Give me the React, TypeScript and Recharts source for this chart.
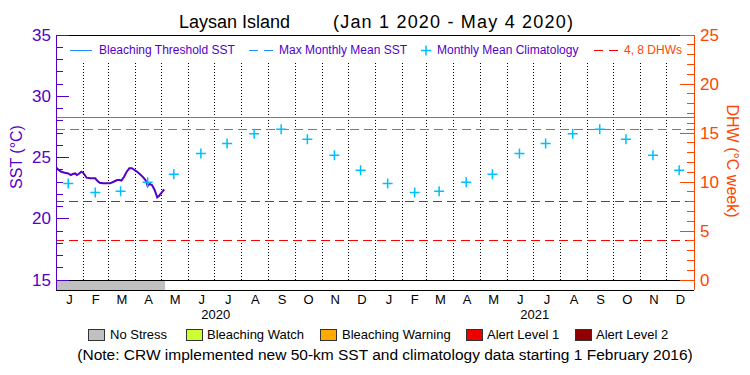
import React from 'react';
import { ComposedChart, Line, Scatter, XAxis, YAxis, ReferenceLine, ReferenceArea } from 'recharts';

// calendar for the two plotted years (2020 is a leap year)
const monthLengths = [31, 29, 31, 30, 31, 30, 31, 31, 30, 31, 30, 31, 31, 28, 31, 30, 31, 30, 31, 31, 30, 31, 30, 31];
const monthLetters = ['J', 'F', 'M', 'A', 'M', 'J', 'J', 'A', 'S', 'O', 'N', 'D'];
const yearLabels = ['2020', '2021'];
const yearMid = [183, 548.5];

// daily SST, day index from Jan 1 2020
const sstDays = [0, 3, 6, 10, 14, 17, 19, 22, 24, 26, 29, 31, 33, 35, 39, 45, 47, 50, 54, 62, 66, 70, 73, 75, 78, 81, 84, 87, 90, 93, 96, 100, 103, 105, 107, 110, 113, 116, 118, 121, 124];
const sstValues = [24.2, 23.98, 23.84, 23.76, 23.7, 23.57, 23.65, 23.7, 23.57, 23.65, 23.84, 23.76, 23.57, 23.35, 23.3, 23.3, 23.11, 22.94, 22.89, 22.89, 23.02, 23.16, 23.16, 23.11, 23.43, 23.84, 24.12, 24.12, 23.98, 23.84, 23.65, 23.38, 23.11, 22.67, 22.84, 22.76, 22.35, 21.75, 21.86, 22.13, 22.4];

// monthly mean climatology, Jan 2020 .. Dec 2021
const climatology = [
  22.87, 22.15, 22.24, 22.98, 23.64, 25.33, 26.15, 26.94, 27.3, 26.48, 25.18, 23.95,
  22.87, 22.15, 22.24, 22.98, 23.64, 25.33, 26.15, 26.94, 27.3, 26.48, 25.18, 23.95,
];

const mmm = 27.3;
const bleachingThreshold = 28.3;
const dhwLevels = [4, 8];
const stressPeriods = [{ start: 0, end: 125, color: '#C0C0C0' }];

const leftTicks = [15, 16, 17, 18, 19, 20, 21, 22, 23, 24, 25, 26, 27, 28, 29, 30, 31, 32, 33, 34, 35];
const rightTicks = [0, 1, 2, 3, 4, 5, 6, 7, 8, 9, 10, 11, 12, 13, 14, 15, 16, 17, 18, 19, 20, 21, 22, 23, 24, 25];

const stressLegend = [
  { label: 'No Stress', color: '#C0C0C0', box: 88, text: 110 },
  { label: 'Bleaching Watch', color: '#CCFF33', box: 186, text: 207 },
  { label: 'Bleaching Warning', color: '#FFAA00', box: 320, text: 342 },
  { label: 'Alert Level 1', color: '#EE0000', box: 466, text: 487 },
  { label: 'Alert Level 2', color: '#900000', box: 575, text: 596 },
];

const PURPLE = '#5500C8';
const ORANGE = '#FF4500';
const BLUE = '#1E90FF';
const CYAN = '#00BFFF';
const RED = '#FF0000';
const FONT = '"Liberation Sans", Arial, sans-serif';

const monthStarts: number[] = [];
monthLengths.reduce((acc, len) => {
  monthStarts.push(acc);
  return acc + len;
}, 0);
const monthCenters = monthStarts.map((s, i) => s + monthLengths[i] / 2);
const totalDays = monthStarts[23] + monthLengths[23];

const sstData = sstDays.map((d, i) => ({ day: d, sst: sstValues[i] }));
const climData = monthStarts.map((s, i) => ({ day: s + 14, clim: climatology[i] }));

const LeftTick = (props: any) => {
  const { x, y, payload } = props;
  const major = payload.value % 5 === 0;
  return (
    <g>
      <line x1={x} x2={x + (major ? 13 : 7)} y1={y} y2={y} stroke={PURPLE} shapeRendering="crispEdges" />
      {major && (
        <text x={x - 5} y={y} textAnchor="end" dominantBaseline="central" fill={PURPLE} fontSize={17} fontFamily={FONT}>
          {payload.value}
        </text>
      )}
    </g>
  );
};

const RightTick = (props: any) => {
  const { x, y, payload } = props;
  const major = payload.value % 5 === 0;
  return (
    <g>
      <line x1={x} x2={x - (major ? 14 : 7)} y1={y} y2={y} stroke={ORANGE} shapeRendering="crispEdges" />
      {major && (
        <text x={x + 6} y={y} textAnchor="start" dominantBaseline="central" fill={ORANGE} fontSize={17} fontFamily={FONT}>
          {payload.value}
        </text>
      )}
    </g>
  );
};

const Cross = (props: any) => {
  const { cx, cy } = props;
  return <path d={`M${cx - 5},${cy}H${cx + 5}M${cx},${cy - 5}V${cy + 5}`} stroke={CYAN} strokeWidth={1.5} fill="none" />;
};

const abs = (left: number, top: number, extra: React.CSSProperties = {}): React.CSSProperties => ({
  position: 'absolute',
  left,
  top,
  whiteSpace: 'pre',
  ...extra,
});

export default function App() {
  return (
    <div style={{ position: 'absolute', left: 0, top: 0, width: 750, height: 375, background: '#fff', fontFamily: FONT }}>
      <ComposedChart width={750} height={375} margin={{ top: 35, right: 16, bottom: 47, left: 16 }}>
        <XAxis
          xAxisId={0}
          type="number"
          dataKey="day"
          domain={[0, totalDays]}
          ticks={monthCenters}
          interval={0}
          tickFormatter={(v: number, i: number) => monthLetters[i % 12]}
          tickLine={false}
          tickSize={0}
          tickMargin={5}
          axisLine={{ stroke: '#000', shapeRendering: 'crispEdges' }}
          tick={{ fill: '#000', fontSize: 13, fontFamily: FONT }}
          height={18}
          allowDataOverflow
        />
        <XAxis
          xAxisId="year"
          type="number"
          dataKey="day"
          domain={[0, totalDays]}
          ticks={yearMid}
          interval={0}
          tickFormatter={(v: number, i: number) => yearLabels[i]}
          tickLine={false}
          tickSize={0}
          tickMargin={2}
          axisLine={false}
          tick={{ fill: '#000', fontSize: 13, fontFamily: FONT }}
          height={20}
          allowDataOverflow
        />
        <YAxis
          yAxisId="left"
          type="number"
          domain={[15 - 10 / 12.25, 35]}
          ticks={leftTicks}
          interval={0}
          width={40}
          tickSize={0}
          tickMargin={0}
          tickLine={false}
          axisLine={{ stroke: PURPLE, shapeRendering: 'crispEdges' }}
          tick={LeftTick}
          allowDataOverflow
        />
        <YAxis
          yAxisId="right"
          orientation="right"
          type="number"
          domain={[-10 / 9.8, 25]}
          ticks={rightTicks}
          interval={0}
          width={40}
          tickSize={0}
          tickMargin={0}
          tickLine={false}
          axisLine={{ stroke: ORANGE, shapeRendering: 'crispEdges' }}
          tick={RightTick}
          allowDataOverflow
        />

        {stressPeriods.map((p) => (
          <ReferenceArea
            key={p.start}
            yAxisId="left"
            x1={p.start}
            x2={p.end}
            y1={15 - 10 / 12.25}
            y2={15}
            fill={p.color}
            fillOpacity={1}
            stroke="none"
          />
        ))}

        {monthStarts.slice(1).map((d) => (
          <ReferenceLine
            key={d}
            yAxisId="left"
            segment={[{ x: d, y: 15 }, { x: d, y: 32.7 }]}
            stroke="#000"
            strokeWidth={d === 366 ? 1.6 : 1}
            strokeDasharray="1 2"
            shapeRendering="crispEdges"
          />
        ))}

        <ReferenceLine yAxisId="left" y={35} stroke="#000" shapeRendering="crispEdges" />
        <ReferenceLine yAxisId="left" y={15} stroke="#000" shapeRendering="crispEdges" />
        <ReferenceLine yAxisId="left" y={bleachingThreshold} stroke={BLUE} shapeRendering="crispEdges" />
        <ReferenceLine yAxisId="left" y={mmm} stroke={BLUE} strokeDasharray="9 5" shapeRendering="crispEdges" />
        {dhwLevels.map((v) => (
          <ReferenceLine key={v} yAxisId="right" y={v} stroke={RED} strokeDasharray="9 5" shapeRendering="crispEdges" />
        ))}

        <Scatter data={climData} yAxisId="left" dataKey="clim" shape={Cross} isAnimationActive={false} />
        <Line
          data={sstData}
          yAxisId="left"
          dataKey="sst"
          type="linear"
          stroke={PURPLE}
          strokeWidth={2}
          dot={false}
          isAnimationActive={false}
        />
      </ComposedChart>

      {/* title */}
      <div style={abs(179, 12, { fontSize: 18, lineHeight: '20px', color: '#000' })}>Laysan Island</div>
      <div style={abs(333, 12, { fontSize: 18, lineHeight: '20px', color: '#000', letterSpacing: 1.2 })}>(Jan 1 2020 - May 4 2020)</div>

      {/* top legend */}
      <svg style={abs(0, 0)} width={750} height={70} pointerEvents="none">
        <line x1={70} x2={92} y1={50.5} y2={50.5} stroke={BLUE} />
        <line x1={249} x2={273} y1={50.5} y2={50.5} stroke={BLUE} strokeDasharray="9 6" />
        <path d="M421,50.5H431M426,45.5V55.5" stroke={CYAN} strokeWidth={1.5} />
        <line x1={594} x2={618} y1={50.5} y2={50.5} stroke={RED} strokeDasharray="9 6" />
      </svg>
      <div style={abs(99, 43, { fontSize: 12, lineHeight: '14px', color: PURPLE })}>Bleaching Threshold SST</div>
      <div style={abs(279, 43, { fontSize: 12, lineHeight: '14px', color: PURPLE })}>Max Monthly Mean SST</div>
      <div style={abs(437, 43, { fontSize: 12, lineHeight: '14px', color: PURPLE })}>Monthly Mean Climatology</div>
      <div style={abs(624, 43, { fontSize: 12, lineHeight: '14px', color: ORANGE })}>4, 8 DHWs</div>

      {/* axis titles */}
      <div style={abs(17, 157, { fontSize: 16, lineHeight: '18px', color: PURPLE, transform: 'translate(-50%, -50%) rotate(-90deg)' })}>
        SST (°C)
      </div>
      <div style={abs(732, 161, { fontSize: 16, lineHeight: '18px', color: ORANGE, transform: 'translate(-50%, -50%) rotate(90deg)' })}>
        DHW (°C week)
      </div>

      {/* stress legend */}
      {stressLegend.map((s) => (
        <React.Fragment key={s.label}>
          <div style={abs(s.box, 329, { width: 15, height: 10, background: s.color, border: '1px solid #333' })} />
          <div style={abs(s.text, 327, { fontSize: 13, lineHeight: '15px', color: '#000' })}>{s.label}</div>
        </React.Fragment>
      ))}
      <div style={abs(385, 347, { fontSize: 15.5, lineHeight: '16px', color: '#000', transform: 'translateX(-50%)' })}>
        (Note: CRW implemented new 50-km SST and climatology data starting 1 February 2016)
      </div>
    </div>
  );
}
